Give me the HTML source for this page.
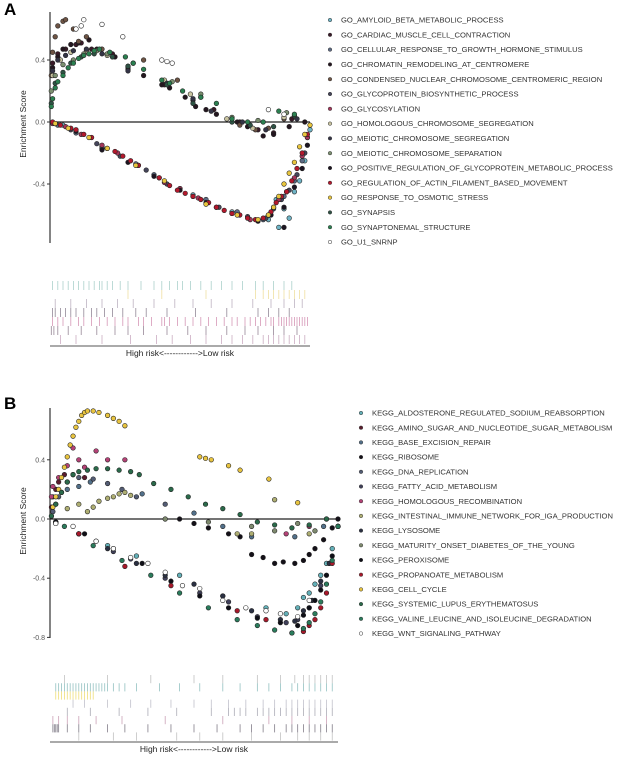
<!DOCTYPE html>
<html><head><meta charset="utf-8"><style>
html,body{margin:0;padding:0;background:#fff;}
svg{display:block;font-family:"Liberation Sans",sans-serif;}
</style></head><body>
<svg id="chart" width="622" height="758" viewBox="0 0 622 758"></svg>
<script>
// ---------- Panel A data ----------
const goNames = ["GO_AMYLOID_BETA_METABOLIC_PROCESS","GO_CARDIAC_MUSCLE_CELL_CONTRACTION","GO_CELLULAR_RESPONSE_TO_GROWTH_HORMONE_STIMULUS","GO_CHROMATIN_REMODELING_AT_CENTROMERE","GO_CONDENSED_NUCLEAR_CHROMOSOME_CENTROMERIC_REGION","GO_GLYCOPROTEIN_BIOSYNTHETIC_PROCESS","GO_GLYCOSYLATION","GO_HOMOLOGOUS_CHROMOSOME_SEGREGATION","GO_MEIOTIC_CHROMOSOME_SEGREGATION","GO_MEIOTIC_CHROMOSOME_SEPARATION","GO_POSITIVE_REGULATION_OF_GLYCOPROTEIN_METABOLIC_PROCESS","GO_REGULATION_OF_ACTIN_FILAMENT_BASED_MOVEMENT","GO_RESPONSE_TO_OSMOTIC_STRESS","GO_SYNAPSIS","GO_SYNAPTONEMAL_STRUCTURE","GO_U1_SNRNP"];
const goColors = ["#6fb4c6","#3a1a28","#5c6a84","#24161f","#6e5444","#45455a","#a3365a","#c9c4a0","#343446","#7c9070","#1c1420","#b4182c","#e9c63e","#2e5344","#2b8050","#ffffff"];
const goAmyloid = [[0.02,-0.01],[0.05,-0.02],[0.2,-0.17],[0.42,-0.36],[0.55,-0.47],[0.7,-0.58],[0.84,-0.63],[0.87,-0.5],[0.88,-0.68],[0.9,-0.56],[0.92,-0.62],[0.94,-0.45],[0.96,-0.38],[0.98,-0.25],[1,-0.05]];
const goCardiac = [[0.01,0.38],[0.03,0.44],[0.06,0.47],[0.1,0.5],[0.12,0.51],[0.16,0.47],[0.24,0.44],[0.3,0.34],[0.44,0.24],[0.55,0.14],[0.63,0.08],[0.73,0.0],[0.8,-0.05],[0.86,-0.07],[0.93,0.02]];
const goCellular = [[0.03,-0.02],[0.1,-0.07],[0.2,-0.16],[0.33,-0.27],[0.4,-0.34],[0.5,-0.43],[0.6,-0.5],[0.72,-0.58],[0.82,-0.63],[0.86,-0.55],[0.9,-0.48],[0.94,-0.38],[0.97,-0.25],[0.99,-0.1]];
const goChromatin = [[0.01,0.35],[0.03,0.42],[0.05,0.47],[0.08,0.5],[0.11,0.51],[0.15,0.53],[0.18,0.47],[0.25,0.42],[0.3,0.35],[0.36,0.3],[0.43,0.24],[0.46,0.22],[0.52,0.16],[0.56,0.1],[0.6,0.08],[0.64,0.05],[0.72,0.0],[0.76,-0.03],[0.82,-0.09],[0.86,-0.08],[0.92,-0.03],[0.98,0.0]];
const goCondensed = [[0.005,0.3],[0.01,0.45],[0.02,0.55],[0.03,0.62],[0.05,0.65],[0.06,0.66],[0.09,0.6],[0.11,0.52],[0.14,0.55],[0.2,0.47],[0.36,0.4],[0.49,0.27],[0.58,0.16],[0.73,-0.02],[0.79,-0.05],[0.84,-0.04],[0.9,0.02]];
const goGlycoBio = [[0.02,-0.01],[0.08,-0.05],[0.18,-0.14],[0.27,-0.22],[0.37,-0.31],[0.45,-0.4],[0.55,-0.48],[0.65,-0.55],[0.76,-0.61],[0.83,-0.62],[0.86,-0.56],[0.89,-0.5],[0.92,-0.44],[0.95,-0.34],[0.98,-0.2]];
const goGlycosylation = [[0.01,-0.01],[0.06,-0.03],[0.12,-0.08],[0.2,-0.15],[0.26,-0.2],[0.34,-0.28],[0.44,-0.39],[0.5,-0.43],[0.57,-0.49],[0.64,-0.55],[0.7,-0.59],[0.77,-0.63],[0.84,-0.6],[0.88,-0.5],[0.91,-0.45],[0.94,-0.36],[0.97,-0.22],[0.99,-0.1]];
const goHomologous = [[0.01,0.3],[0.04,0.4],[0.08,0.45],[0.14,0.46],[0.22,0.43],[0.3,0.36],[0.44,0.27],[0.54,0.18],[0.68,0.02],[0.78,-0.04],[0.9,0.03]];
const goMeioticSeg = [[0.01,0.33],[0.03,0.4],[0.06,0.43],[0.09,0.46],[0.14,0.47],[0.2,0.44],[0.3,0.33],[0.45,0.25],[0.55,0.15],[0.62,0.07],[0.74,0.0],[0.83,-0.05],[0.95,0.02]];
const goMeioticSep = [[0.005,0.2],[0.02,0.3],[0.05,0.37],[0.09,0.4],[0.13,0.44],[0.18,0.46],[0.22,0.44],[0.32,0.38],[0.47,0.26],[0.58,0.18],[0.7,0.03],[0.8,0.01],[0.91,0.06]];
const goPositive = [[0.02,-0.01],[0.1,-0.06],[0.2,-0.18],[0.3,-0.26],[0.4,-0.35],[0.5,-0.44],[0.6,-0.52],[0.7,-0.59],[0.8,-0.64],[0.85,-0.6],[0.9,-0.55],[0.9,-0.68],[0.94,-0.42],[0.97,-0.3],[0.99,-0.15]];
const goActin = [[0.01,0.0],[0.04,-0.02],[0.08,-0.04],[0.1,-0.05],[0.13,-0.08],[0.16,-0.1],[0.22,-0.17],[0.25,-0.19],[0.28,-0.22],[0.31,-0.25],[0.34,-0.28],[0.42,-0.36],[0.46,-0.41],[0.49,-0.44],[0.52,-0.46],[0.55,-0.48],[0.58,-0.5],[0.61,-0.52],[0.64,-0.55],[0.67,-0.57],[0.7,-0.59],[0.73,-0.6],[0.76,-0.62],[0.79,-0.63],[0.82,-0.62],[0.85,-0.58],[0.87,-0.52],[0.89,-0.48],[0.91,-0.45],[0.93,-0.38],[0.95,-0.3],[0.97,-0.2],[0.99,-0.08]];
const goOsmotic = [[0.02,-0.01],[0.07,-0.04],[0.15,-0.1],[0.22,-0.17],[0.33,-0.28],[0.44,-0.38],[0.6,-0.53],[0.72,-0.6],[0.8,-0.63],[0.84,-0.6],[0.86,-0.55],[0.88,-0.48],[0.9,-0.4],[0.92,-0.33],[0.94,-0.26],[0.96,-0.16],[0.98,-0.08],[1,-0.02]];
const goSynapsis = [[0.005,0.12],[0.02,0.25],[0.05,0.32],[0.08,0.38],[0.12,0.42],[0.17,0.44],[0.24,0.42],[0.3,0.36],[0.45,0.24],[0.55,0.12],[0.7,0.0],[0.77,-0.02],[0.86,-0.03],[0.94,0.04]];
const goSynaptonemal = [[0.005,0.1],[0.01,0.15],[0.02,0.22],[0.03,0.26],[0.05,0.3],[0.07,0.35],[0.09,0.38],[0.11,0.41],[0.13,0.43],[0.15,0.44],[0.17,0.46],[0.19,0.47],[0.23,0.45],[0.29,0.42],[0.32,0.38],[0.36,0.34],[0.43,0.27],[0.46,0.25],[0.51,0.2],[0.58,0.16],[0.64,0.12],[0.7,0.02],[0.76,0.0],[0.82,0.0],[0.88,0.07],[0.94,0.05]];
const goU1 = [[0.1,0.6],[0.12,0.62],[0.13,0.66],[0.2,0.63],[0.28,0.55],[0.43,0.4],[0.45,0.39],[0.47,0.38],[0.84,0.08],[0.9,0.05]];
const goSeries = [goAmyloid,goCardiac,goCellular,goChromatin,goCondensed,goGlycoBio,goGlycosylation,goHomologous,goMeioticSeg,goMeioticSep,goPositive,goActin,goOsmotic,goSynapsis,goSynaptonemal,goU1];
const goTicks = [0.4,0,-0.4];
const goRugRows = [
 ["#7fb8b0",[1,3,5,7,9,11,13,15,17,19,20,22,24,27,30,35,40,43,46,49,51,54,58,62,66,70,74,79,82,86,90,93]],
 ["#e7d070",[30,43,60,79,82,84,86,88,90,92,94,96,98]],
 ["#9a8aa0",[2,8,14,20,26,32,40,48,55,62,70,78,85,90,94,97]],
 ["#5a4a60",[1,2,4,6,8,10,13,16,18,21,24,28,33,37,45,56,68,80,84,88,92]],
 ["#c06090",[1,3,5,8,11,13,16,19,22,25,28,30,34,36,39,43,44,46,49,52,55,58,61,64,67,70,72,75,77,79,81,83,85,86,88,89,90,91,92,93,94,95,96,97,98,99]],
 ["#604860",[0.5,1.5,3,7,12,18,25,30,36,45,53,60,68,75,80,86,90,95]],
 ["#b080a0",[4,10,20,31,41,47,54,60,66,70,74,78,82,84,86,88,90,92,94,96,98]]
];
// ---------- Panel B data ----------
const keggNames = ["KEGG_ALDOSTERONE_REGULATED_SODIUM_REABSORPTION","KEGG_AMINO_SUGAR_AND_NUCLEOTIDE_SUGAR_METABOLISM","KEGG_BASE_EXCISION_REPAIR","KEGG_RIBOSOME","KEGG_DNA_REPLICATION","KEGG_FATTY_ACID_METABOLISM","KEGG_HOMOLOGOUS_RECOMBINATION","KEGG_INTESTINAL_IMMUNE_NETWORK_FOR_IGA_PRODUCTION","KEGG_LYSOSOME","KEGG_MATURITY_ONSET_DIABETES_OF_THE_YOUNG","KEGG_PEROXISOME","KEGG_PROPANOATE_METABOLISM","KEGG_CELL_CYCLE","KEGG_SYSTEMIC_LUPUS_ERYTHEMATOSUS","KEGG_VALINE_LEUCINE_AND_ISOLEUCINE_DEGRADATION","KEGG_WNT_SIGNALING_PATHWAY"];
const keggColors = ["#63b0b8","#5a1c2c","#52708a","#141018","#535c74","#40405a","#b44276","#aeae72","#2a3042","#7e8a6e","#0e0e16","#a8182a","#e8c440","#2a6a4a","#2a7c5c","#ffffff"];
const kAldo = [[0.02,-0.02],[0.1,-0.1],[0.2,-0.18],[0.3,-0.25],[0.45,-0.38],[0.6,-0.52],[0.75,-0.6],[0.82,-0.64],[0.86,-0.6],[0.88,-0.53],[0.9,-0.5],[0.92,-0.44],[0.94,-0.38],[0.96,-0.3],[0.98,-0.2],[1,-0.05]];
const kAmino = [[0.005,0.08],[0.01,0.15],[0.02,0.2],[0.03,0.25],[0.05,0.3],[0.08,0.3],[0.12,0.28]];
const kBase = [[0.02,0.1],[0.04,0.18],[0.06,0.2],[0.1,0.22],[0.14,0.25],[0.32,0.17],[0.5,0.04],[0.6,-0.05],[0.7,-0.12],[0.85,-0.12],[0.95,-0.05]];
const kRibo = [[0.45,0.0],[0.5,-0.03],[0.55,-0.06],[0.62,-0.1],[0.66,-0.12],[0.7,-0.24],[0.74,-0.26],[0.78,-0.3],[0.81,-0.29],[0.85,-0.3],[0.88,-0.28],[0.9,-0.24],[0.92,-0.2],[0.95,-0.14],[0.98,-0.06],[1,0.0]];
const kDNA = [[0.01,0.05],[0.03,0.15],[0.06,0.25],[0.1,0.28],[0.15,0.27],[0.2,0.24],[0.25,0.2],[0.3,0.15],[0.4,0.1]];
const kFatty = [[0.02,-0.03],[0.1,-0.1],[0.16,-0.15],[0.22,-0.22],[0.28,-0.27],[0.4,-0.4],[0.52,-0.5],[0.62,-0.56],[0.72,-0.66],[0.82,-0.7],[0.86,-0.68],[0.9,-0.6],[0.94,-0.45],[0.97,-0.3],[1,-0.05]];
const kHomolog = [[0.005,0.15],[0.01,0.22],[0.03,0.28],[0.06,0.36],[0.08,0.48],[0.1,0.4],[0.12,0.35],[0.16,0.46],[0.2,0.4],[0.26,0.4],[0.82,-0.1],[0.9,-0.05]];
const kIgA = [[0.06,0.07],[0.1,0.1],[0.13,0.05],[0.15,0.08],[0.17,0.12],[0.2,0.14],[0.22,0.15],[0.24,0.17],[0.26,0.18],[0.28,0.16],[0.65,-0.1],[0.7,-0.1],[0.78,0.13],[0.9,-0.1]];
const kLyso = [[0.02,-0.02],[0.1,-0.1],[0.2,-0.2],[0.3,-0.3],[0.4,-0.38],[0.5,-0.44],[0.6,-0.52],[0.7,-0.62],[0.8,-0.68],[0.85,-0.69],[0.88,-0.62],[0.91,-0.55],[0.94,-0.42],[0.97,-0.3],[1,-0.05]];
const kMody = [[0.4,0.0],[0.55,-0.02],[0.7,-0.05],[0.78,-0.08],[0.86,-0.03],[0.92,-0.08],[0.96,0.0]];
const kPerox = [[0.02,-0.02],[0.12,-0.1],[0.22,-0.2],[0.32,-0.3],[0.42,-0.42],[0.52,-0.52],[0.62,-0.6],[0.72,-0.67],[0.8,-0.7],[0.86,-0.72],[0.88,-0.65],[0.9,-0.6],[0.92,-0.55],[0.94,-0.48],[0.96,-0.38],[0.98,-0.25],[1,-0.05]];
const kPropa = [[0.1,-0.1],[0.26,-0.32],[0.42,-0.45],[0.65,-0.62],[0.75,-0.68],[0.84,-0.77],[0.88,-0.76],[0.9,-0.72],[0.92,-0.68],[0.94,-0.6],[0.96,-0.5],[0.98,-0.3],[1,-0.05]];
const kCell = [[0.005,0.02],[0.01,0.08],[0.02,0.15],[0.03,0.2],[0.04,0.28],[0.05,0.35],[0.06,0.42],[0.07,0.5],[0.08,0.56],[0.09,0.62],[0.1,0.66],[0.11,0.7],[0.12,0.72],[0.13,0.73],[0.15,0.73],[0.17,0.72],[0.2,0.7],[0.22,0.68],[0.24,0.66],[0.26,0.63],[0.52,0.42],[0.54,0.41],[0.56,0.4],[0.62,0.36],[0.66,0.33],[0.76,0.27],[0.86,0.11]];
const kSLE = [[0.005,0.02],[0.02,0.1],[0.04,0.18],[0.06,0.25],[0.08,0.3],[0.1,0.32],[0.13,0.33],[0.16,0.34],[0.2,0.34],[0.24,0.33],[0.28,0.32],[0.31,0.3],[0.36,0.24],[0.42,0.2],[0.48,0.15],[0.54,0.1],[0.6,0.07],[0.66,0.03],[0.72,-0.02],[0.78,-0.04],[0.84,-0.06],[0.9,-0.04],[0.96,0.0]];
const kValine = [[0.05,-0.05],[0.15,-0.18],[0.25,-0.28],[0.35,-0.38],[0.45,-0.5],[0.55,-0.6],[0.65,-0.68],[0.72,-0.72],[0.78,-0.75],[0.84,-0.77],[0.88,-0.74],[0.9,-0.7],[0.92,-0.64],[0.94,-0.56],[0.96,-0.44],[0.98,-0.28],[1,-0.05]];
const kWnt = [[0.02,-0.03],[0.08,-0.05],[0.16,-0.15],[0.22,-0.2],[0.28,-0.26],[0.34,-0.3],[0.4,-0.36],[0.46,-0.45],[0.52,-0.47],[0.6,-0.55],[0.68,-0.6],[0.75,-0.62],[0.8,-0.64],[0.86,-0.66],[0.9,-0.55]];
const keggSeries = [kAldo,kAmino,kBase,kRibo,kDNA,kFatty,kHomolog,kIgA,kLyso,kMody,kPerox,kPropa,kCell,kSLE,kValine,kWnt];
const keggTicks = [0.4,0,-0.4,-0.8];
const keggRugRows = [
 ["#a0a0a0",[5,20,35,50,60,72,80,85,88,90,92,94,96,98]],
 ["#5aa0a0",[2,3,4,5,6,7,8,9,10,11,12,13,14,15,16,17,18,19,20,22,24,26,30,38,45,52,60,66,72,76,80,84,86,88,90,92,94,96,98]],
 ["#e6cc30",[2,3,4,5,6,7,8,9,10,11,12,13,14,15]],
 ["#a0a0b0",[8,12,20,28,35,42,50,56,62,68,74,78,82,84,86,88,90,92,94,96,98]],
 ["#808090",[6,14,24,34,44,56,62,64,66,68,72,74,76,78,80,82,84,86,88,90,92,94,96,98]],
 ["#b07090",[1,3,6,10,16,25,40,60,76,84,90,96]],
 ["#40384a",[1,1.5,2,2.5,3,6,10,14,20,26,34,42,50,58,66,70,74,78,82,84,86,88,90,92,94,96,98]],
 ["#a0a0a0",[10,22,30,44,52,60,70,80,86,90,94,98]]
];
const NS = "http://www.w3.org/2000/svg";
const svg = document.getElementById('chart');
function el(tag, attrs, parent){ const e=document.createElementNS(NS,tag); for(const k in attrs) e.setAttribute(k,attrs[k]); (parent||svg).appendChild(e); return e; }

function drawPanel(p){
  const g = el('g',{});
  
  
  const xs = f => p.x0 + f*(p.x1-p.x0);
  const ys = v => p.y0 - v*p.k;
  const lab = el('text',{x:4,y:p.labelY,'font-size':17,'font-weight':'bold',fill:'#000'},g); lab.textContent=p.letter;
  
  
  const ax = el('line',{x1:p.x0,x2:p.x0,y1:p.axTop,y2:p.axBot,stroke:'#333','stroke-width':1.2},g);
  
  
  p.ticks.forEach(t=>{
    const y=ys(t);
    const tl = el('line',{x1:p.x0-3,x2:p.x0,y1:y,y2:y,stroke:'#333','stroke-width':1},g);
    
    
    const tx = el('text',{x:p.x0-5,y:y+2.5,'font-size':7,'text-anchor':'end',fill:'#555'},g);
    tx.textContent = t.toFixed(1);
    
    
  });
  const zl = el('line',{x1:p.x0,x2:p.x1,y1:ys(0),y2:ys(0),stroke:'#222','stroke-width':1.2},g);
  
  
  const yt = el('text',{x:0,y:0,'font-size':8.5,'text-anchor':'middle',fill:'#222',transform:`translate(${p.x0-24},${ys(0)+2}) rotate(-90)`},g);
  yt.textContent='Enrichment Score';
  
  
  p.series.forEach((s,i)=>{
    s.forEach(pt=>{
      const c = el('circle',{cx:xs(pt[0]),cy:ys(pt[1]),r:2.3,fill:p.colors[i],stroke:'#222','stroke-width':0.6},g);
      
      
    });
  });
  p.rug.forEach((row,ri)=>{
    const ry = p.rugTop + ri*p.rugStep;
    row[1].forEach(v=>{
      const x = xs(v/100);
      const l = el('line',{x1:x,x2:x,y1:ry,y2:ry+p.rugStep,stroke:row[0],'stroke-width':0.8,opacity:0.65},g);
      
      
    });
  });
  const bl = el('line',{x1:p.x0,x2:p.x1,y1:p.rugBase,y2:p.rugBase,stroke:'#777','stroke-width':1.2},g);
  
  
  const xt = el('text',{x:(p.x0+p.x1)/2,y:p.rugBase+10,'font-size':8.5,'text-anchor':'middle',fill:'#222'},g);
  xt.textContent='High risk<------------>Low risk';
  
  
  const lg = el('g',{},g);
  
  
  p.names.forEach((n,i)=>{
    const y = p.legY + i*p.legStep;
    const c = el('circle',{cx:p.legX,cy:y,r:1.8,fill:p.colors[i],stroke:'#333','stroke-width':0.5},lg);
    
    
    const t = el('text',{x:p.legX+11,y:y+2.6,'font-size':7.6,fill:'#333'},lg);
    t.textContent=n;
    
    
  });
}
drawPanel({key:'go',letter:'A',labelY:15,x0:50,x1:310,y0:122,k:155,axTop:12,axBot:243,ticks:goTicks,series:goSeries,colors:goColors,names:goNames,
  rug:goRugRows,rugTop:281,rugStep:9,rugBase:346,legX:330,legY:20,legStep:14.8});
drawPanel({key:'kegg',letter:'B',labelY:409,x0:50,x1:338,y0:519,k:148,axTop:408,axBot:638,ticks:keggTicks,series:keggSeries,colors:keggColors,names:keggNames,
  rug:keggRugRows,rugTop:675,rugStep:8.2,rugBase:742,legX:361,legY:413,legStep:14.7});
</script>
</body></html>
